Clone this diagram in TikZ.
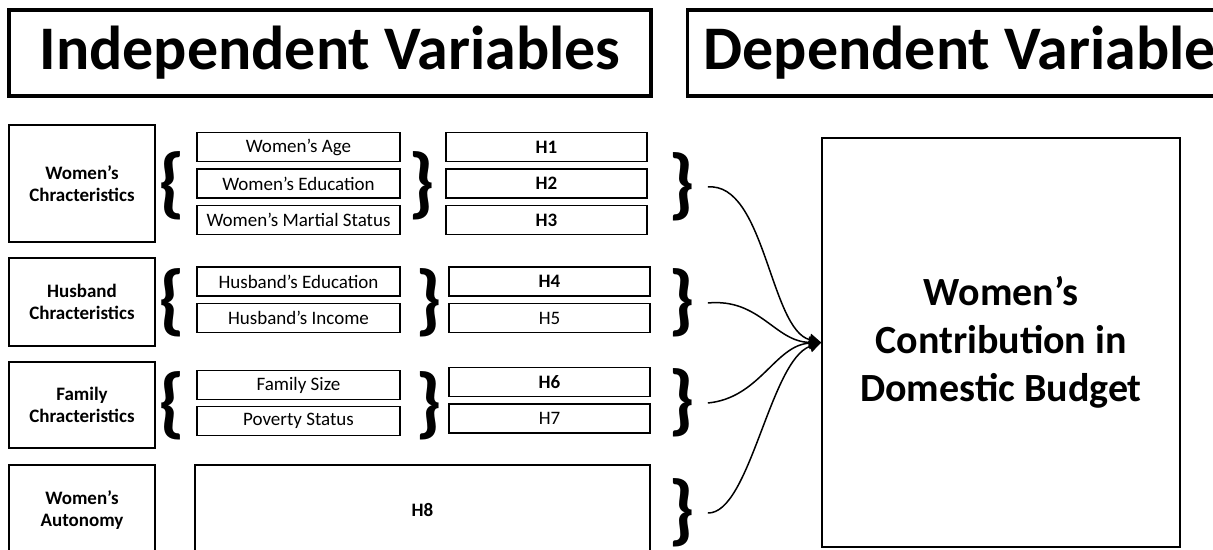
\documentclass[tikz,border=0pt]{standalone}
\usepackage{fontspec}
\setmainfont{Carlito}
\usetikzlibrary{arrows.meta}

\tikzset{
	titlebox/.style={draw, line width=1.6pt, font=\fontsize{31}{37}\selectfont\bfseries},
	catbox/.style={draw, line width=0.75pt, minimum width=73pt, align=center, font=\fontsize{9.5}{11}\selectfont\bfseries},
	itembox/.style={draw, line width=0.65pt, minimum width=101.5pt, minimum height=14.5pt, inner sep=0pt, font=\fontsize{9.5}{11}\selectfont},
	hypbox/.style={draw, line width=0.65pt, minimum width=100.5pt, minimum height=14.5pt, inner sep=0pt, font=\fontsize{9.5}{11}\selectfont},
	brace/.style={inner sep=0pt, font=\fontsize{39}{39}\selectfont\bfseries},
	link/.style={line width=0.75pt, -{Triangle[length=6pt,width=6pt]}}
}

\begin{document}
\begin{tikzpicture}[x=0.5pt,y=-0.5pt]
			\useasboundingbox (0,0) rectangle (1213,550);
			\clip (0,0) rectangle (1213,550);

			\node[titlebox, minimum width=321pt, minimum height=43pt] (indep) at (330,53) {Independent Variables};
			\node[titlebox, anchor=west, minimum height=43pt, inner xsep=8pt] (depvar) at (686,53) {Dependent Variable\hspace*{24pt}};

			\node[catbox, minimum height=58.5pt] (womenchar) at (82,183.5) {Women’s\\Chracteristics};
			\node[catbox, minimum height=44pt] (husbchar) at (82,302) {Husband\\Chracteristics};
			\node[catbox, minimum height=43pt] (famchar) at (82,405) {Family\\Chracteristics};
			\node[catbox, minimum height=45pt] (autonomy) at (82,510) {Women’s\\Autonomy};

			\node[brace] (lbwomen) at (172,186) {\{};
			\node[brace] (lbhusb) at (172,303) {\{};
			\node[brace] (lbfam) at (172,406) {\{};

			\node[itembox] (age) at (298.5,147) {Women’s Age};
			\node[itembox] (edu) at (298.5,183.5) {Women’s Education};
			\node[itembox] (marital) at (298.5,220) {Women’s Martial Status};
			\node[itembox] (husbedu) at (298.5,281.5) {Husband’s Education};
			\node[itembox] (income) at (298.5,318) {Husband’s Income};
			\node[itembox] (famsize) at (298.5,385) {Family Size};
			\node[itembox] (poverty) at (298.5,421) {Poverty Status};

			\node[brace] (rbwomen) at (422,186) {\}};
			\node[brace] (rbhusb) at (429,303) {\}};
			\node[brace] (rbfam) at (429,406) {\}};

			\node[hypbox, font=\fontsize{9.5}{11}\selectfont\bfseries] (h1) at (546.5,147) {H1};
			\node[hypbox, font=\fontsize{9.5}{11}\selectfont\bfseries] (h2) at (546.5,183.5) {H2};
			\node[hypbox, font=\fontsize{9.5}{11}\selectfont\bfseries] (h3) at (546.5,220) {H3};
			\node[hypbox, font=\fontsize{9.5}{11}\selectfont\bfseries] (h4) at (549.5,281.5) {H4};
			\node[hypbox] (h5) at (549.5,318) {H5};
			\node[hypbox, font=\fontsize{9.5}{11}\selectfont\bfseries] (h6) at (549.5,382) {H6};
			\node[hypbox] (h7) at (549.5,418.5) {H7};
			\node[hypbox, font=\fontsize{9.5}{11}\selectfont\bfseries, minimum width=227.5pt, minimum height=45pt] (h8) at (422.5,510) {H8};

			\node[brace] (hbwomen) at (682,187) {\}};
			\node[brace] (hbhusb) at (682,303) {\}};
			\node[brace] (hbfam) at (682,403) {\}};
			\node[brace] (hbauto) at (682,513) {\}};

			\node[draw, line width=0.75pt, minimum width=179pt, minimum height=204.5pt, align=center, font=\fontsize{20}{24}\selectfont\bfseries] (contrib) at (1001,342.5) {Women’s\\Contribution in\\Domestic Budget};

			\draw[link] ([xshift=6pt]hbwomen.east) .. controls (765,182) and (770,330) .. (contrib.west);
			\draw[link] ([xshift=6pt]hbhusb.east) .. controls (760,298) and (775,342) .. (contrib.west);
			\draw[link] ([xshift=6pt]hbfam.east) .. controls (760,398) and (775,345) .. (contrib.west);
			\draw[link] ([xshift=6pt]hbauto.east) .. controls (750,514) and (770,360) .. (contrib.west);
		\end{tikzpicture}
\end{document}
